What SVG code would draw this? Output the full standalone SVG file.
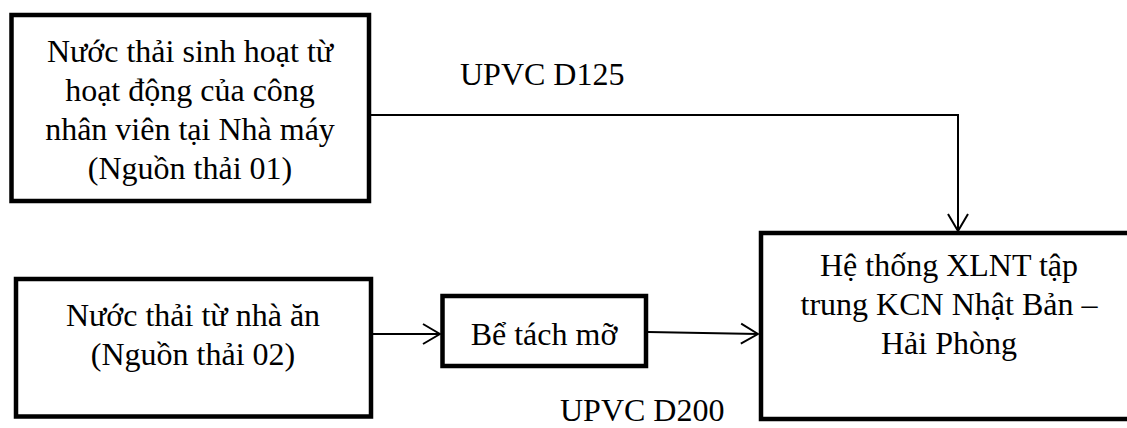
<svg xmlns="http://www.w3.org/2000/svg" width="1127" height="428" viewBox="0 0 1127 428">
<style>
.box{fill:#fff;stroke:#000;stroke-width:4.5;stroke-linejoin:miter}
.t{font-family:'Liberation Serif','DejaVu Serif',serif;font-size:32px;fill:#000;text-anchor:middle}
.lbl{font-family:'Liberation Serif','DejaVu Serif',serif;font-size:32px;fill:#000}
.c{fill:none;stroke:#000;stroke-width:2}
</style>
<defs>
<marker id="arr" viewBox="0 0 20 24" refX="19" refY="12" markerWidth="20" markerHeight="24" markerUnits="userSpaceOnUse" orient="auto">
<path d="M2,2 L19,12 L2,22" fill="none" stroke="#000" stroke-width="2"/>
</marker>
</defs>
<rect width="1127" height="428" fill="#fff"/>
<g id="connectors">
<polyline class="c" points="371,115 958,115 958,231" marker-end="url(#arr)"/>
<line class="c" x1="373" y1="334" x2="440" y2="334" marker-end="url(#arr)"/>
<line class="c" x1="648" y1="332" x2="758" y2="334" marker-end="url(#arr)"/>
</g>
<g id="n1">
<rect class="box" x="11.5" y="15" width="357.5" height="186"/>
<text class="t" x="190" y="62" font-family="Liberation Serif">Nước thải sinh hoạt từ</text>
<text class="t" x="190" y="101" font-family="Liberation Serif">hoạt động của công</text>
<text class="t" x="190" y="140" font-family="Liberation Serif">nhân viên tại Nhà máy</text>
<text class="t" x="190" y="179" font-family="Liberation Serif">(Nguồn thải 01)</text>
</g>
<g id="n2">
<rect class="box" x="16" y="279" width="355" height="137.5"/>
<text class="t" x="193" y="326">Nước thải từ nhà ăn</text>
<text class="t" x="193" y="365">(Nguồn thải 02)</text>
</g>
<g id="n3">
<rect class="box" x="442.5" y="296" width="203.5" height="70"/>
<text class="t" x="544" y="345">Bể tách mỡ</text>
</g>
<g id="n4">
<rect class="box" x="761" y="233" width="380" height="186"/>
<text class="t" x="949" y="276">Hệ thống XLNT tập</text>
<text class="t" x="949" y="315">trung KCN Nhật Bản –</text>
<text class="t" x="949" y="354">Hải Phòng</text>
</g>
<g id="labels">
<text class="lbl" x="460" y="85">UPVC D125</text>
<text class="lbl" x="560" y="421">UPVC D200</text>
</g>
</svg>
